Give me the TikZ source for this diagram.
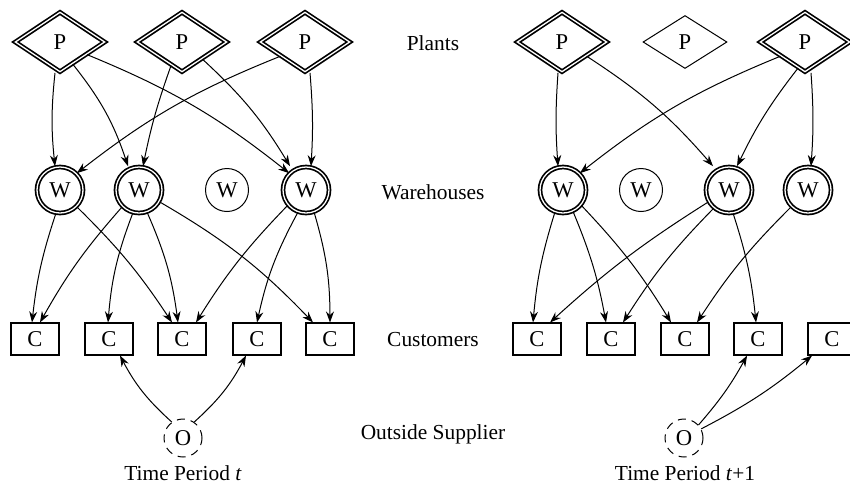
\documentclass[tikz,border=0pt]{standalone}
\usepackage{fontspec}
\setmainfont{Liberation Serif}
\usetikzlibrary{shapes.geometric,arrows.meta}
\begin{document}
\begin{tikzpicture}[x=0.5pt,y=-0.5pt,
  font=\fontsize{10.7}{12}\selectfont,
  sym/.style={font=\fontsize{11.3}{12}\selectfont},
  plant/.style={sym,diamond,draw,double,line width=0.85pt,double distance=0.65pt,minimum width=45pt,minimum height=30pt,inner sep=0pt},
  plantoff/.style={sym,diamond,draw,line width=0.5pt,minimum width=42pt,minimum height=26.5pt,inner sep=0pt},
  ware/.style={sym,circle,draw,double,line width=0.85pt,double distance=0.65pt,minimum size=23pt,inner sep=0pt},
  wareoff/.style={sym,circle,draw,line width=0.5pt,minimum size=21.5pt,inner sep=0pt},
  cust/.style={sym,rectangle,draw,line width=0.75pt,minimum width=24.2pt,minimum height=15.8pt,inner sep=0pt},
  outs/.style={sym,circle,draw,line width=0.5pt,dash pattern=on 4pt off 3pt,minimum size=19pt,inner sep=0pt},
  lbl/.style={inner sep=0pt},
  flow/.style={line width=0.5pt,-{Stealth[length=5.5pt,width=4pt,inset=1.8pt]}}
]
\useasboundingbox (0,0) rectangle (850,484);
% ---------- left panel ----------
\node[plant] (lp1) at (60,42) {P};
\node[plant] (lp2) at (182,42) {P};
\node[plant] (lp3) at (305,42) {P};
\node[ware] (lw1) at (60,190) {W};
\node[ware] (lw2) at (139,190) {W};
\node[wareoff] (lw3) at (227,190) {W};
\node[ware] (lw4) at (306,190) {W};
\node[cust] (lc1) at (35,339) {C};
\node[cust] (lc2) at (109,339) {C};
\node[cust] (lc3) at (182,339) {C};
\node[cust] (lc4) at (257,339) {C};
\node[cust] (lc5) at (330,339) {C};
\node[outs] (lo) at (183,438) {O};
\node[lbl] (lt) at (183,473) {Time Period \textit{t}};
% ---------- labels ----------
\node[lbl] (tp) at (433,43) {Plants};
\node[lbl] (tw) at (433,192) {Warehouses};
\node[lbl] (tc) at (433,340) {Customers};
\node[lbl] (to) at (433,434) {Outside Supplier};
% ---------- right panel ----------
\node[plant] (rp1) at (562,42) {P};
\node[plantoff] (rp2) at (685,42) {P};
\node[plant] (rp3) at (805,42) {P};
\node[ware] (rw1) at (563,190) {W};
\node[wareoff] (rw2) at (641,190) {W};
\node[ware] (rw3) at (729,190) {W};
\node[ware] (rw4) at (808,190) {W};
\node[cust] (rc1) at (537,339) {C};
\node[cust] (rc2) at (611,339) {C};
\node[cust] (rc3) at (685,339) {C};
\node[cust] (rc4) at (758,339) {C};
\node[cust] (rc5) at (832,339) {C};
\node[outs] (ro) at (684,438) {O};
\node[lbl] (rt) at (685,473) {Time Period \textit{t}+1};
% ---------- left edges ----------
\draw[flow] ([xshift=-2.5pt]lp1.south) to[bend right=6] ([xshift=-2.5pt]lw1.north);
\draw[flow] (lp1.-60) to[bend left=10] ([xshift=-5.5pt]lw2.north);
\draw[flow] (lp1.-25) to[bend left=8] (lw4.north west);
\draw[flow] (lp2.-115) to[bend right=4] ([xshift=2pt]lw2.north);
\draw[flow] (lp2.-40) to[bend left=8] ([xshift=-8pt]lw4.north);
\draw[flow] (lp3.-150) to[bend right=8] (lw1.north east);
\draw[flow] ([xshift=2.5pt]lp3.south) to[bend left=4] ([xshift=2.5pt]lw4.north);
\draw[flow] (lw1.-100) to[bend right=6] ([xshift=-1.5pt]lc1.north);
\draw[flow] (lw1.-45) to[bend left=6] ([xshift=-5pt]lc3.north);
\draw[flow] (lw2.-135) to[bend right=6] ([xshift=2.5pt]lc1.north);
\draw[flow] (lw2.-105) to[bend right=8] ([xshift=-0.5pt]lc2.north);
\draw[flow] (lw2.-70) to[bend left=8] ([xshift=-2pt]lc3.north);
\draw[flow] (lw2.-30) to[bend left=8] ([xshift=-8.5pt]lc5.north);
\draw[flow] (lw4.-140) to[bend right=6] ([xshift=7pt]lc3.north);
\draw[flow] (lw4.-110) to[bend right=8] (lc4.north);
\draw[flow] (lw4.-70) to[bend left=8] (lc5.north);
\draw[flow] (lo.125) to[bend left=10] ([xshift=5.5pt]lc2.south);
\draw[flow] (lo.55) to[bend right=10] ([xshift=-5.5pt]lc4.south);
% ---------- right edges ----------
\draw[flow] ([xshift=-2pt]rp1.south) to[bend right=4] ([xshift=-2.5pt]rw1.north);
\draw[flow] (rp1.-30) to[bend left=8] ([xshift=-8pt]rw3.north);
\draw[flow] (rp3.-150) to[bend right=8] (rw1.north east);
\draw[flow] (rp3.-105) to[bend right=6] ([xshift=4pt]rw3.north);
\draw[flow] ([xshift=3pt]rp3.south) to[bend left=4] ([xshift=1.5pt]rw4.north);
\draw[flow] (rw1.-110) to[bend right=6] ([xshift=-2pt]rc1.north);
\draw[flow] (rw1.-65) to[bend left=6] ([xshift=-2.5pt]rc2.north);
\draw[flow] (rw1.-40) to[bend left=6] ([xshift=-7pt]rc3.north);
\draw[flow] (rw3.-150) to[bend right=5] ([xshift=6.5pt]rc1.north);
\draw[flow] (rw3.-130) to[bend right=6] ([xshift=6pt]rc2.north);
\draw[flow] (rw3.-80) to[bend left=6] ([xshift=-1pt]rc4.north);
\draw[flow] (rw4.-135) to[bend right=6] ([xshift=6pt]rc3.north);
\draw[flow] (ro.42) to[bend right=6] ([xshift=7pt]rc4.south west);
\draw[flow] (ro.28) to[bend right=6] ([xshift=2.5pt]rc5.south west);
\end{tikzpicture}
\end{document}
